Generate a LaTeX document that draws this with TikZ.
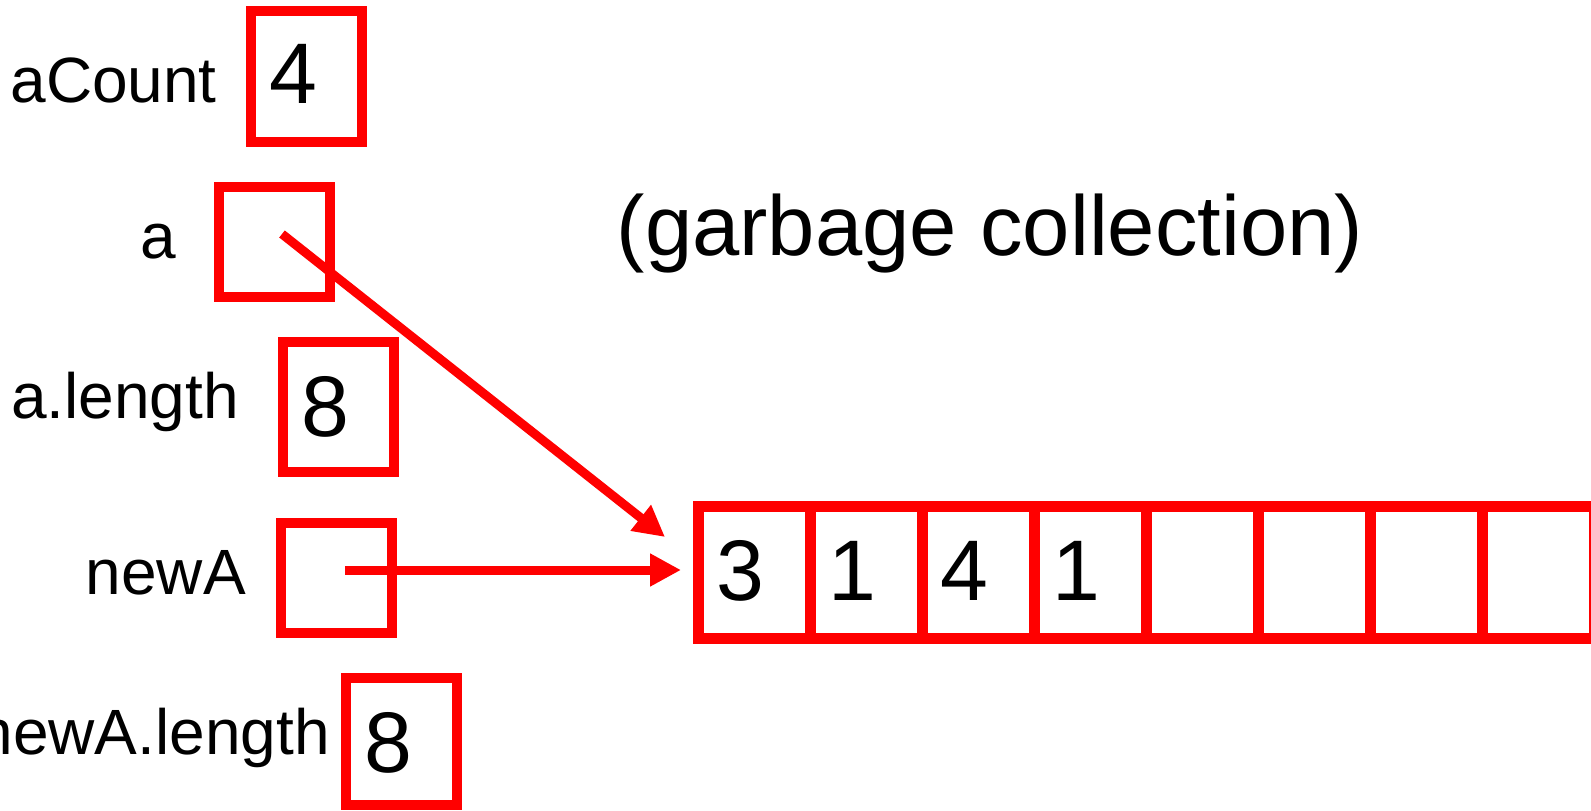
\documentclass[tikz,border=0pt]{standalone}
\usepackage{fontspec}
\setmainfont{Liberation Sans}
\usetikzlibrary{arrows.meta}
\begin{document}
\begin{tikzpicture}[x=1pt,y=-1pt,
  box/.style={draw=red, line width=10pt, inner sep=0pt, minimum width=111pt},
  cell/.style={draw=red, line width=11pt, inner sep=0pt, minimum width=112pt, minimum height=132pt},
  lbl/.style={anchor=base east, inner sep=0pt, font=\fontsize{64}{70}\selectfont},
  num/.style={anchor=base, inner sep=0pt, font=\fontsize{86}{90}\selectfont},
  ptr/.style={draw=red, line width=9pt, -{Triangle[length=31pt,width=31pt]}}]
\useasboundingbox (0,0) rectangle (1591,811);
% variable boxes
\node[box, minimum height=131pt] (bCount) at (306.5,76.5) {};
\node[box, minimum height=110pt] (bA) at (274,242) {};
\node[box, minimum height=130pt] (bAlen) at (338.5,407) {};
\node[box, minimum height=110pt] (bNew) at (336.5,578) {};
\node[box, minimum height=127pt] (bNewlen) at (401.5,741.5) {};
% labels
\node[lbl] (lCount) at (217,102) {aCount};
\node[lbl] (lA) at (176,258) {a};
\node[lbl] (lAlen) at (239,418) {a.length};
\node[lbl] (lNew) at (246,594) {newA};
\node[lbl] (lNewlen) at (330,754) {newA.length};
% values
\node[num] (vCount) at (293,103) {4};
\node[num] (vAlen) at (325,436) {8};
\node[num] (vNewlen) at (388,772) {8};
% array
\foreach \i in {1,...,8} \node[cell] (c\i) at ({754+112*(\i-1)},572) {};
\node[num] (d1) at (740,600) {3};
\node[num] (d2) at (852,600) {1};
\node[num] (d3) at (964,600) {4};
\node[num] (d4) at (1076,600) {1};
% caption
\node[anchor=base, inner sep=0pt, font=\fontsize{85}{90}\selectfont] (gc) at (990,255) {(garbage collection)};
% pointers
\coordinate (pa) at (282,234);
\coordinate (ta) at (665,537);
\draw[ptr] (pa) -- (ta);
\coordinate (pn) at (345,570);
\coordinate (tn) at (681,570);
\draw[ptr] (pn) -- (tn);
\end{tikzpicture}
\end{document}
